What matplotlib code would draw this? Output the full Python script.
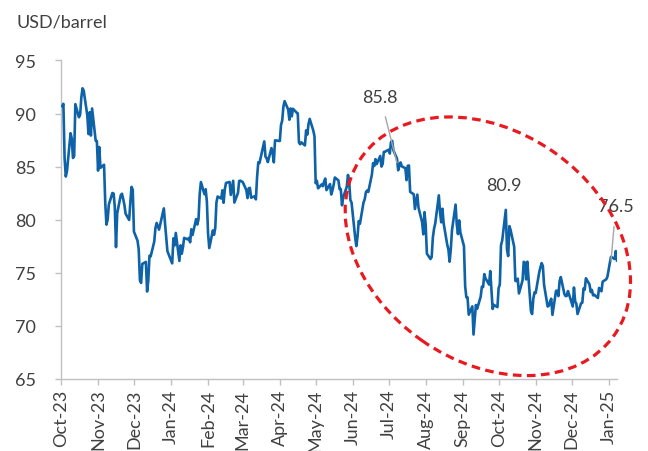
import matplotlib
matplotlib.use("Agg")
import matplotlib.pyplot as plt
import matplotlib.dates as mdates
from matplotlib.patches import Ellipse
from matplotlib.transforms import IdentityTransform
import pandas as pd

plt.rcParams['font.family'] = ['Lato', 'DejaVu Sans']

# daily Brent closes, USD/barrel, one list per month (business days)
oct23 = [90.71, 90.92, 85.81, 84.07, 84.58, 88.15, 87.65, 85.82, 86.00, 90.89, 89.65,
         89.90, 91.50, 92.38, 92.16, 89.83, 88.07, 90.13, 87.93, 90.48, 87.45, 87.41]
nov23 = [84.63, 86.85, 84.89, 85.18, 81.61, 79.54, 80.01, 81.43, 82.52, 82.47, 81.18,
         77.42, 80.61, 82.32, 82.45, 81.96, 81.42, 80.58, 79.98, 81.68, 83.10, 82.83]
dec23 = [78.88, 78.03, 77.20, 74.30, 74.05, 75.84, 76.03, 73.24, 74.26, 76.61, 76.55,
         77.95, 79.23, 79.70, 79.39, 79.07, 81.07, 79.65, 78.39, 77.04]
jan24 = [75.89, 78.25, 77.59, 78.76, 76.12, 77.59, 76.80, 77.41, 78.29, 78.15, 78.29,
         77.88, 79.10, 78.56, 80.06, 79.55, 80.04, 82.43, 83.55, 82.40, 82.87, 81.71]
feb24 = [78.70, 77.33, 78.99, 78.59, 79.21, 81.63, 82.19, 82.00, 82.77, 81.60, 82.86,
         83.47, 83.56, 82.34, 83.03, 83.67, 81.62, 82.53, 83.65, 83.68, 83.62]
mar24 = [83.55, 82.80, 82.04, 82.96, 83.00, 82.08, 82.21, 81.92, 84.03, 85.42, 85.34,
         86.89, 87.38, 85.95, 85.78, 85.43, 86.75, 86.25, 85.41, 87.48]
apr24 = [87.42, 88.92, 89.35, 90.65, 91.17, 90.38, 89.42, 90.48, 89.74, 90.45, 90.10,
         90.02, 87.29, 87.11, 87.29, 87.00, 88.42, 88.02, 89.01, 89.50, 88.40, 87.86]
may24 = [83.44, 83.67, 82.96, 83.33, 83.16, 83.58, 83.88, 82.79, 83.36, 82.38, 82.75,
         83.27, 83.98, 83.71, 82.88, 82.90, 81.36, 82.12, 83.10, 84.22, 83.60, 81.86, 81.62]
jun24 = [78.36, 77.52, 78.41, 79.87, 79.62, 81.63, 81.92, 82.60, 82.75, 82.62, 84.25,
         85.33, 85.07, 85.71, 85.24, 86.01, 85.01, 85.25, 86.39, 86.41]
jul24 = [86.60, 86.24, 87.34, 87.43, 86.54, 85.75, 84.66, 85.08, 85.40, 85.03, 84.85,
         83.73, 85.08, 85.11, 82.63, 82.40, 81.01, 81.71, 82.37, 81.13, 79.78, 78.63, 80.72]
aug24 = [79.52, 76.81, 76.30, 76.48, 78.33, 79.16, 79.66, 82.30, 80.69, 79.76, 81.04,
         79.68, 77.66, 77.20, 76.05, 77.22, 79.02, 81.43, 79.55, 78.65, 79.94, 78.80]
sep24 = [77.52, 73.75, 72.70, 72.69, 71.06, 71.84, 69.19, 70.61, 71.97, 71.61, 72.75,
         73.70, 73.65, 74.88, 74.49, 73.90, 75.17, 73.46, 71.60, 71.98, 71.77]
oct24 = [73.56, 73.90, 77.62, 78.05, 80.93, 77.18, 76.58, 79.40, 79.04, 77.46, 74.25,
         74.22, 74.45, 73.06, 74.29, 76.04, 75.96, 74.38, 76.05, 71.42, 71.12, 72.55, 73.16]
nov24 = [73.10, 75.08, 75.53, 75.92, 75.63, 73.87, 71.83, 71.89, 72.28, 72.56, 71.04,
         73.30, 73.31, 72.81, 74.23, 74.60, 73.01, 72.81, 72.83, 73.28, 72.94]
dec24 = [71.83, 73.62, 72.31, 72.09, 71.12, 72.14, 72.19, 73.52, 73.41, 74.49, 73.91,
         73.19, 73.39, 72.88, 72.94, 72.63, 73.58, 73.26, 74.17, 74.39, 74.64]
jan25 = [75.93, 76.51, 76.30, 77.05, 76.16]

holidays = ['2023-12-25', '2024-01-01', '2024-03-29', '2024-12-25', '2025-01-01']

prices = (oct23 + nov23 + dec23 + jan24 + feb24 + mar24 + apr24 + may24 + jun24
          + jul24 + aug24 + sep24 + oct24 + nov24 + dec24 + jan25)
dates = pd.bdate_range('2023-10-02', '2025-01-08')
dates = dates[~dates.isin(pd.to_datetime(holidays))]

# labelled points: (date, value, text, text position, leader line)
labels = [('2024-07-08', 85.75, '85.8', ('2024-06-24', 91.6), True),
          ('2024-10-07', 80.93, '80.9', ('2024-10-05', 83.3), False),
          ('2025-01-03', 76.51, '76.5', ('2025-01-07', 81.3), True)]

grey = '#404040'
axis_col = '#c0c0c0'

fig = plt.figure(figsize=(6.48, 4.52), dpi=100)
ax = fig.add_axes([61 / 648, 72 / 452, 556 / 648, 318.5 / 452])

ax.plot(dates, prices, color='#0d62a8', lw=1.9, zorder=3)

ax.set_ylim(65, 95)
ax.set_yticks(range(65, 96, 5))
ax.set_xlim(pd.Timestamp('2023-10-01'), pd.Timestamp('2025-01-08'))
ax.xaxis.set_major_locator(mdates.MonthLocator())
ax.xaxis.set_major_formatter(mdates.DateFormatter('%b-%y'))

for s in ['top', 'right']:
    ax.spines[s].set_visible(False)
for s in ['left', 'bottom']:
    ax.spines[s].set_color(axis_col)
    ax.spines[s].set_linewidth(1)

ax.tick_params(colors=axis_col, labelcolor=grey, labelsize=13, length=4, width=1)
ax.tick_params(axis='y', pad=14)
ax.tick_params(axis='x', labelrotation=90, pad=3)

for d, v, txt, pos, leader in labels:
    if leader:
        ax.annotate(txt, xy=(pd.Timestamp(d), v - 0.4), xytext=(pd.Timestamp(pos[0]), pos[1]),
                    ha='center', va='center', fontsize=13, color=grey,
                    arrowprops=dict(arrowstyle='-', color='#a6a6a6', lw=1,
                                    shrinkA=7, shrinkB=0))
    else:
        ax.text(pd.Timestamp(pos[0]), pos[1], txt, ha='center', va='center',
                fontsize=13, color=grey)

fig.text(17 / 648, 1 - 28 / 452, 'USD/barrel', fontsize=13, color=grey, va='baseline')

# dashed ring around the second half of the series
cx, cy = ax.transData.transform((mdates.date2num(pd.Timestamp('2024-09-22')), 77.5))
ring = Ellipse((cx, cy), 309, 230, angle=-35, transform=IdentityTransform(),
               fill=False, ec='#e8191f', lw=2.3, ls=(0, (2.7, 1.7)), zorder=5)
fig.add_artist(ring)

fig.savefig('out.png', dpi=100)
